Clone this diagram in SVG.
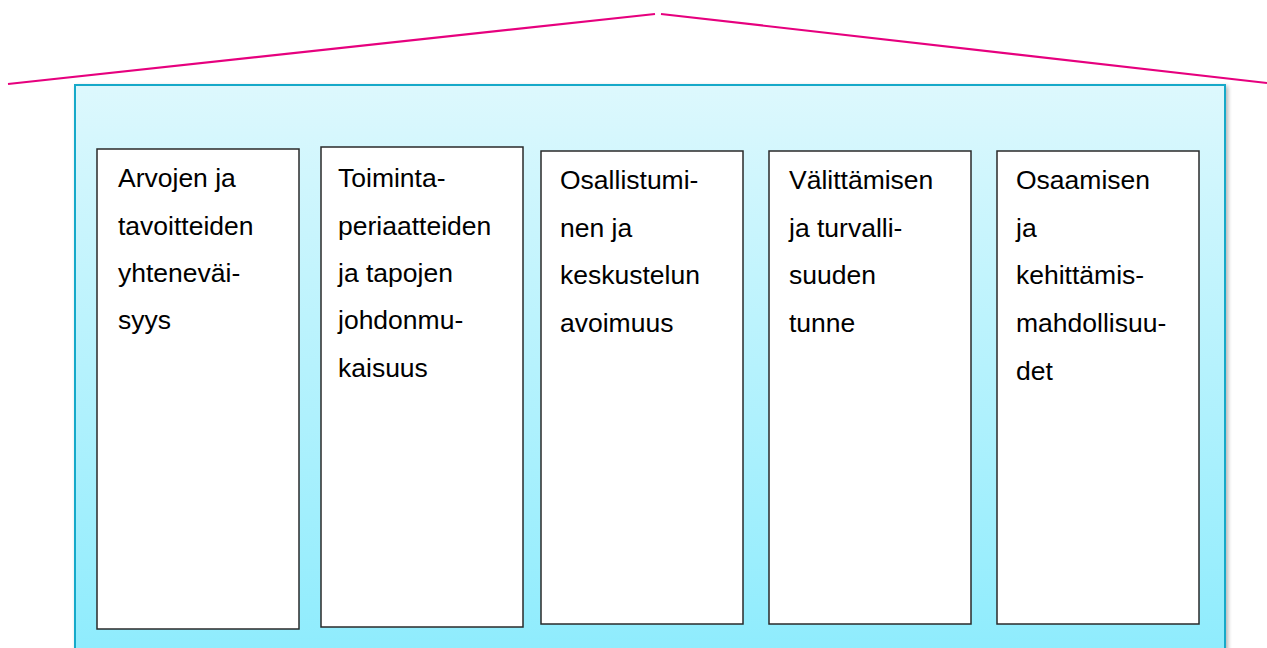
<svg xmlns="http://www.w3.org/2000/svg" width="1267" height="648" viewBox="0 0 1267 648">
<defs>
<linearGradient id="bg" x1="0" y1="0" x2="0" y2="1">
<stop offset="0" stop-color="#ddf8fd"/>
<stop offset="1" stop-color="#8eecfd"/>
</linearGradient>
<filter id="sh" x="-5%" y="-5%" width="110%" height="110%">
<feGaussianBlur in="SourceAlpha" stdDeviation="2"/>
<feOffset dx="2" dy="2"/>
<feComponentTransfer><feFuncA type="linear" slope="0.3"/></feComponentTransfer>
<feMerge><feMergeNode/><feMergeNode in="SourceGraphic"/></feMerge>
</filter>
</defs>
<style>
.roof{stroke:#e6007e;stroke-width:2.2;fill:none}
.box{fill:#ffffff;stroke:#2a2a2a;stroke-width:1.5}
.t{font-family:"Liberation Sans",Arial,sans-serif;font-size:26.5px;fill:#000}
</style>
<rect width="1267" height="648" fill="#ffffff"/>
<g id="roof">
<line class="roof" x1="8" y1="84" x2="655" y2="14"/>
<line class="roof" x1="661" y1="14" x2="1267" y2="83"/>
</g>
<g id="panel">
<rect x="75" y="85" width="1150" height="570" fill="url(#bg)" stroke="#17a9c9" stroke-width="2" filter="url(#sh)"/>
</g>
<g id="connectors"></g>
<g id="node1">
<rect class="box" x="97" y="149" width="202" height="480"/>
<text class="t" x="118" y="187">Arvojen ja</text>
<text class="t" x="118" y="235">tavoitteiden</text>
<text class="t" x="118" y="282">yhteneväi-</text>
<text class="t" x="118" y="329">syys</text>
</g>
<g id="node2">
<rect class="box" x="321" y="147" width="202" height="480"/>
<text class="t" x="338" y="187">Toiminta-</text>
<text class="t" x="338" y="235">periaatteiden</text>
<text class="t" x="338" y="282">ja tapojen</text>
<text class="t" x="338" y="329">johdonmu-</text>
<text class="t" x="338" y="377">kaisuus</text>
</g>
<g id="node3">
<rect class="box" x="541" y="151" width="202" height="473"/>
<text class="t" x="560" y="189">Osallistumi-</text>
<text class="t" x="560" y="237">nen ja</text>
<text class="t" x="560" y="284">keskustelun</text>
<text class="t" x="560" y="332">avoimuus</text>
</g>
<g id="node4">
<rect class="box" x="769" y="151" width="202" height="473"/>
<text class="t" x="789" y="189">Välittämisen</text>
<text class="t" x="789" y="237">ja turvalli-</text>
<text class="t" x="789" y="284">suuden</text>
<text class="t" x="789" y="332">tunne</text>
</g>
<g id="node5">
<rect class="box" x="997" y="151" width="202" height="473"/>
<text class="t" x="1016" y="189">Osaamisen</text>
<text class="t" x="1016" y="237">ja</text>
<text class="t" x="1016" y="284">kehittämis-</text>
<text class="t" x="1016" y="332">mahdollisuu-</text>
<text class="t" x="1016" y="380">det</text>
</g>
</svg>
